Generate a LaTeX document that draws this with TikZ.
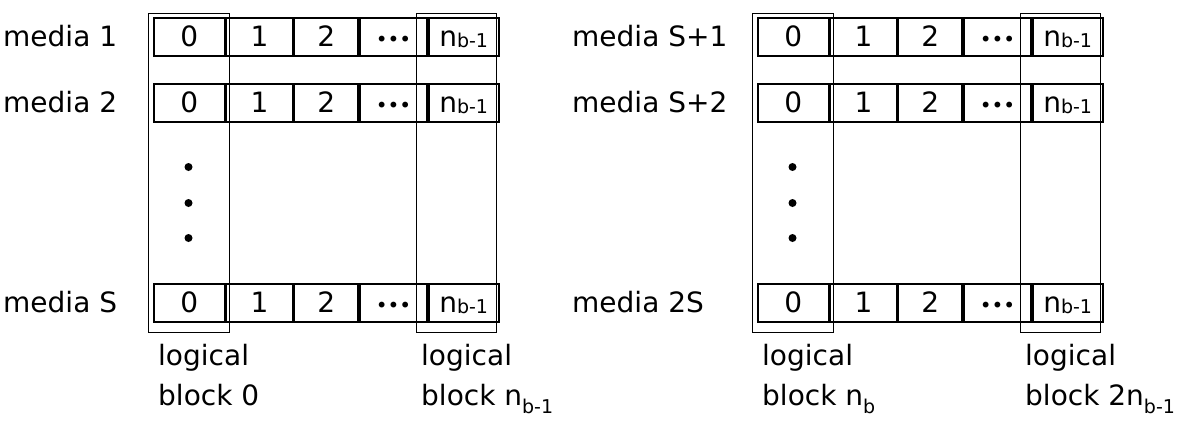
\documentclass[tikz,border=0pt]{standalone}
\usepackage{fontspec}
\setmainfont{DejaVu Sans}
\newcommand\bigtxt{\fontsize{28}{40}\selectfont}
\newcommand\subtxt{\fontsize{19}{19}\selectfont}
\newcommand\nbone{n\raisebox{-1pt}{\subtxt b-1}}
\newcommand\lnbone{n\raisebox{-8pt}{\subtxt b-1}}
\newcommand\lnb{n\raisebox{-8pt}{\subtxt b}}
\tikzset{
  cell/.style={draw, line width=1.7pt, inner sep=0pt, minimum height=38pt,
    text height=19pt, text depth=0pt, font=\bigtxt, anchor=west},
  colbox/.style={draw, line width=1.1pt, inner sep=0pt, minimum height=319pt,
    anchor=north west},
  rowlbl/.style={font=\bigtxt, inner sep=0pt, anchor=base west},
  blocklbl/.style={font=\bigtxt, inner sep=0pt, anchor=base west, align=left},
  vdot/.style={circle, fill, inner sep=0pt, minimum size=8pt}
}
% one media row: name prefix, x offset, vertical centre
\newcommand\mediarow[3]{%
  \node[cell, minimum width=71pt] (#1c0) at (#2+153,#3) {0};
  \node[cell, minimum width=66pt] (#1c1) at (#1c0.east) {1};
  \node[cell, minimum width=64pt] (#1c2) at (#1c1.east) {2};
  \node[cell, minimum width=67pt] (#1c3) at (#1c2.east) {\fontsize{20}{20}\selectfont •••};
  \node[cell, minimum width=70pt] (#1c4) at (#1c3.east) {\nbone};
}
\begin{document}
\begin{tikzpicture}[x=1pt, y=-1pt]
\useasboundingbox (0,0) rectangle (1183,426);

% ---- first group of media ----
\node[colbox, minimum width=81pt] (gAfirst) at (148,13) {};
\node[colbox, minimum width=80pt] (gAlast) at (416,13) {};
\mediarow{rA1}{0}{37}
\mediarow{rA2}{0}{103}
\mediarow{rAS}{0}{303}
\node[rowlbl] (lA1) at (3,46) {media 1};
\node[rowlbl] (lA2) at (3,112) {media 2};
\node[rowlbl] (lAS) at (3,312) {media S};
\node[vdot] (dA1) at (188.5,167) {};
\node[vdot] (dA2) at (188.5,203) {};
\node[vdot] (dA3) at (188.5,238) {};
\node[blocklbl] (bA0) at (158,405) {logical\\block 0};
\node[blocklbl] (bA1) at (421,405) {logical\\block \lnbone};

% ---- second group of media ----
\node[colbox, minimum width=81pt] (gBfirst) at (752,13) {};
\node[colbox, minimum width=80pt] (gBlast) at (1020,13) {};
\mediarow{rB1}{604}{37}
\mediarow{rB2}{604}{103}
\mediarow{rBS}{604}{303}
\node[rowlbl] (lB1) at (572,46) {media S+1};
\node[rowlbl] (lB2) at (572,112) {media S+2};
\node[rowlbl] (lBS) at (572,312) {media 2S};
\node[vdot] (dB1) at (792.5,167) {};
\node[vdot] (dB2) at (792.5,203) {};
\node[vdot] (dB3) at (792.5,238) {};
\node[blocklbl] (bB0) at (762,405) {logical\\block \lnb};
\node[blocklbl] (bB1) at (1025,405) {logical\\block 2\lnbone};
\end{tikzpicture}
\end{document}
